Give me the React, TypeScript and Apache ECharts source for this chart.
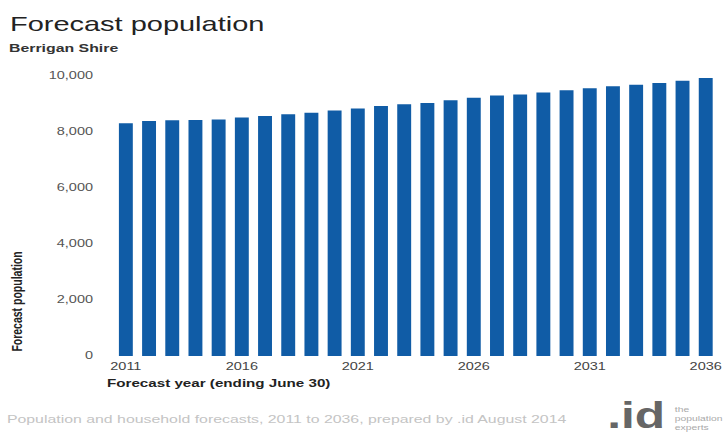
import React, { useEffect, useRef } from "react";
import * as echarts from "echarts";

const years: string[] = [
  "2011", "2012", "2013", "2014", "2015", "2016", "2017", "2018", "2019", "2020",
  "2021", "2022", "2023", "2024", "2025", "2026", "2027", "2028", "2029", "2030",
  "2031", "2032", "2033", "2034", "2035", "2036",
];
const population: number[] = [
  8310, 8390, 8420, 8430, 8450, 8520, 8570, 8630, 8690, 8770,
  8840, 8930, 8990, 9040, 9130, 9220, 9300, 9340, 9410, 9490,
  9560, 9630, 9690, 9750, 9830, 9930,
];
const yTicks: number[] = [0, 2000, 4000, 6000, 8000, 10000];

const titleText = "Forecast population";
const subtitleText = "Berrigan Shire";
const yAxisName = "Forecast population";
const xAxisName = "Forecast year (ending June 30)";
const footerText =
  "Population and household forecasts, 2011 to 2036, prepared by .id August 2014";

const S = 1.38;
const W = 726 / S;
const H = 437;
const FONT = "'Liberation Sans', Arial, sans-serif";

export default function App() {
  const ref = useRef<HTMLDivElement>(null);
  useEffect(() => {
    if (!ref.current) return;
    const chart = echarts.init(ref.current, undefined, { renderer: "svg" });
    chart.setOption({
      animation: false,
      backgroundColor: "#ffffff",
      textStyle: { fontFamily: FONT },
      grid: { left: 82.8, right: 2.3, top: 76, bottom: 81, containLabel: false },
      xAxis: {
        type: "category",
        data: years,
        axisLine: { show: false },
        axisTick: { show: false },
        axisLabel: {
          interval: 4,
          fontSize: 10.5,
          color: "#444",
          margin: 5,
          fontFamily: FONT,
        },
      },
      yAxis: {
        type: "value",
        min: yTicks[0],
        max: yTicks[yTicks.length - 1],
        interval: yTicks[1] - yTicks[0],
        axisLine: { show: false },
        axisTick: { show: false },
        splitLine: { show: false },
        axisLabel: {
          fontSize: 10.5,
          color: "#555",
          margin: 15.4,
          fontFamily: FONT,
          formatter: (v: number) => v.toLocaleString("en-US"),
        },
      },
      series: [
        {
          type: "bar",
          data: population,
          barCategoryGap: "40%",
          itemStyle: { color: "#105ca6" },
        },
      ],
      graphic: [
        {
          type: "text",
          left: 7.2,
          top: 13,
          style: {
            text: titleText,
            font: `21px ${FONT}`,
            fill: "#222",
          },
        },
        {
          type: "text",
          x: 6.5,
          y: 47.5,
          style: {
            text: subtitleText,
            font: `bold 11.5px ${FONT}`,
            fill: "#333",
            verticalAlign: "middle",
          },
        },
        {
          type: "text",
          x: 12.3,
          y: 301.5,
          rotation: Math.PI / 2,
          style: {
            text: yAxisName,
            font: `bold 10.5px ${FONT}`,
            fill: "#222",
            align: "center",
            verticalAlign: "middle",
          },
        },
        {
          type: "text",
          x: 77.5,
          y: 383,
          style: {
            text: xAxisName,
            font: `bold 11px ${FONT}`,
            fill: "#222",
            verticalAlign: "middle",
          },
        },
        {
          type: "text",
          x: 5,
          y: 419,
          style: {
            text: footerText,
            font: `11.5px ${FONT}`,
            fill: "#c4c4c4",
            verticalAlign: "middle",
          },
        },
        {
          type: "text",
          x: 440,
          y: 416,
          style: {
            text: ".id",
            font: `bold 36px ${FONT}`,
            fill: "#666",
            verticalAlign: "middle",
          },
        },
        {
          type: "text",
          x: 489,
          y: 419,
          style: {
            text: "the\npopulation\nexperts",
            font: `7.5px ${FONT}`,
            fill: "#aaa",
            lineHeight: 9,
            verticalAlign: "middle",
          },
        },
      ],
    });
    return () => chart.dispose();
  }, []);
  return (
    <div
      style={{
        position: "absolute",
        left: 0,
        top: 0,
        width: 726,
        height: H,
        overflow: "hidden",
        background: "#fff",
      }}
    >
      <div
        ref={ref}
        style={{
          width: W,
          height: H,
          transform: `scaleX(${S})`,
          transformOrigin: "0 0",
        }}
      />
    </div>
  );
}
